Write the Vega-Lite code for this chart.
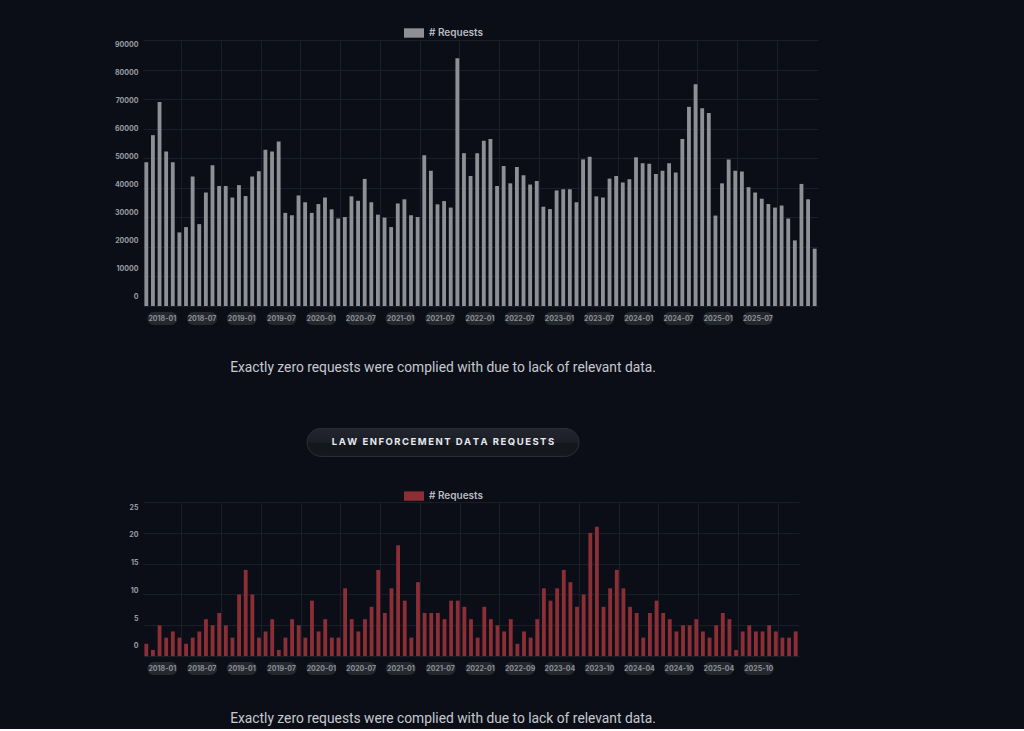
{
  "$schema": "https://vega.github.io/schema/vega-lite/v6.json",
  "background": "#0b0e17",
  "padding": {"left": 113, "top": 23, "right": 206, "bottom": 1},
  "config": {
    "view": {"stroke": null},
    "font": "Inter"
  },
  "datasets": {
    "top": [
      {"month": "2018-01", "requests": 48600}, {"month": "2018-02", "requests": 57800}, {"month": "2018-03", "requests": 69000}, {"month": "2018-04", "requests": 52300}, {"month": "2018-05", "requests": 48600}, {"month": "2018-06", "requests": 24900}, {"month": "2018-07", "requests": 26700}, {"month": "2018-08", "requests": 43800}, {"month": "2018-09", "requests": 27700}, {"month": "2018-10", "requests": 38400}, {"month": "2018-11", "requests": 47600}, {"month": "2018-12", "requests": 40600},
      {"month": "2019-01", "requests": 40600}, {"month": "2019-02", "requests": 36700}, {"month": "2019-03", "requests": 40900}, {"month": "2019-04", "requests": 37200}, {"month": "2019-05", "requests": 43800}, {"month": "2019-06", "requests": 45600}, {"month": "2019-07", "requests": 52900}, {"month": "2019-08", "requests": 52300}, {"month": "2019-09", "requests": 55700}, {"month": "2019-10", "requests": 31500}, {"month": "2019-11", "requests": 30700}, {"month": "2019-12", "requests": 37400},
      {"month": "2020-01", "requests": 35100}, {"month": "2020-02", "requests": 31500}, {"month": "2020-03", "requests": 34500}, {"month": "2020-04", "requests": 36700}, {"month": "2020-05", "requests": 32700}, {"month": "2020-06", "requests": 29600}, {"month": "2020-07", "requests": 30100}, {"month": "2020-08", "requests": 37100}, {"month": "2020-09", "requests": 35600}, {"month": "2020-10", "requests": 43000}, {"month": "2020-11", "requests": 35100}, {"month": "2020-12", "requests": 30900},
      {"month": "2021-01", "requests": 29900}, {"month": "2021-02", "requests": 26700}, {"month": "2021-03", "requests": 34700}, {"month": "2021-04", "requests": 36100}, {"month": "2021-05", "requests": 30700}, {"month": "2021-06", "requests": 30100}, {"month": "2021-07", "requests": 51000}, {"month": "2021-08", "requests": 45800}, {"month": "2021-09", "requests": 34400}, {"month": "2021-10", "requests": 35500}, {"month": "2021-11", "requests": 33300}, {"month": "2021-12", "requests": 83800},
      {"month": "2022-01", "requests": 51700}, {"month": "2022-02", "requests": 44000}, {"month": "2022-03", "requests": 51700}, {"month": "2022-04", "requests": 55900}, {"month": "2022-05", "requests": 56500}, {"month": "2022-06", "requests": 40600}, {"month": "2022-07", "requests": 47400}, {"month": "2022-08", "requests": 41500}, {"month": "2022-09", "requests": 47000}, {"month": "2022-10", "requests": 44200}, {"month": "2022-11", "requests": 41100}, {"month": "2022-12", "requests": 42300},
      {"month": "2023-01", "requests": 33600}, {"month": "2023-02", "requests": 32800}, {"month": "2023-03", "requests": 39100}, {"month": "2023-04", "requests": 39500}, {"month": "2023-05", "requests": 39500}, {"month": "2023-06", "requests": 35100}, {"month": "2023-07", "requests": 49600}, {"month": "2023-08", "requests": 50500}, {"month": "2023-09", "requests": 37100}, {"month": "2023-10", "requests": 36700}, {"month": "2023-11", "requests": 43100}, {"month": "2023-12", "requests": 44000},
      {"month": "2024-01", "requests": 41800}, {"month": "2024-02", "requests": 42900}, {"month": "2024-03", "requests": 50300}, {"month": "2024-04", "requests": 48300}, {"month": "2024-05", "requests": 48100}, {"month": "2024-06", "requests": 44700}, {"month": "2024-07", "requests": 45800}, {"month": "2024-08", "requests": 48300}, {"month": "2024-09", "requests": 45200}, {"month": "2024-10", "requests": 56500}, {"month": "2024-11", "requests": 67400}, {"month": "2024-12", "requests": 75000},
      {"month": "2025-01", "requests": 66900}, {"month": "2025-02", "requests": 65300}, {"month": "2025-03", "requests": 30600}, {"month": "2025-04", "requests": 41500}, {"month": "2025-05", "requests": 49600}, {"month": "2025-06", "requests": 45800}, {"month": "2025-07", "requests": 45500}, {"month": "2025-08", "requests": 40200}, {"month": "2025-09", "requests": 38400}, {"month": "2025-10", "requests": 36300}, {"month": "2025-11", "requests": 34500}, {"month": "2025-12", "requests": 33300},
      {"month": "2026-01", "requests": 34000}, {"month": "2026-02", "requests": 29600}, {"month": "2026-03", "requests": 22200}, {"month": "2026-04", "requests": 41300}, {"month": "2026-05", "requests": 36100}, {"month": "2026-06", "requests": 19400}
    ],
    "law": [
      {"month": "2018-01", "requests": 2}, {"month": "2018-02", "requests": 1}, {"month": "2018-03", "requests": 5}, {"month": "2018-04", "requests": 3}, {"month": "2018-05", "requests": 4}, {"month": "2018-06", "requests": 3}, {"month": "2018-07", "requests": 2}, {"month": "2018-08", "requests": 3}, {"month": "2018-09", "requests": 4}, {"month": "2018-10", "requests": 6}, {"month": "2018-11", "requests": 5}, {"month": "2018-12", "requests": 7},
      {"month": "2019-01", "requests": 5}, {"month": "2019-02", "requests": 3}, {"month": "2019-03", "requests": 10}, {"month": "2019-04", "requests": 14}, {"month": "2019-05", "requests": 10}, {"month": "2019-06", "requests": 3}, {"month": "2019-07", "requests": 4}, {"month": "2019-08", "requests": 6}, {"month": "2019-09", "requests": 1}, {"month": "2019-10", "requests": 3}, {"month": "2019-11", "requests": 6}, {"month": "2019-12", "requests": 5},
      {"month": "2020-01", "requests": 3}, {"month": "2020-02", "requests": 9}, {"month": "2020-03", "requests": 4}, {"month": "2020-04", "requests": 6}, {"month": "2020-05", "requests": 3}, {"month": "2020-06", "requests": 3}, {"month": "2020-07", "requests": 11}, {"month": "2020-08", "requests": 6}, {"month": "2020-09", "requests": 4}, {"month": "2020-10", "requests": 6}, {"month": "2020-11", "requests": 8}, {"month": "2020-12", "requests": 14},
      {"month": "2021-01", "requests": 7}, {"month": "2021-02", "requests": 11}, {"month": "2021-03", "requests": 18}, {"month": "2021-04", "requests": 9}, {"month": "2021-05", "requests": 3}, {"month": "2021-06", "requests": 12}, {"month": "2021-07", "requests": 7}, {"month": "2021-08", "requests": 7}, {"month": "2021-09", "requests": 7}, {"month": "2021-10", "requests": 6}, {"month": "2021-11", "requests": 9}, {"month": "2021-12", "requests": 9},
      {"month": "2022-01", "requests": 8}, {"month": "2022-02", "requests": 6}, {"month": "2022-03", "requests": 3}, {"month": "2022-06", "requests": 8}, {"month": "2022-07", "requests": 6}, {"month": "2022-08", "requests": 5}, {"month": "2022-09", "requests": 4}, {"month": "2022-10", "requests": 6}, {"month": "2022-11", "requests": 2}, {"month": "2023-01", "requests": 4}, {"month": "2023-02", "requests": 3}, {"month": "2023-03", "requests": 6},
      {"month": "2023-04", "requests": 11}, {"month": "2023-05", "requests": 9}, {"month": "2023-06", "requests": 11}, {"month": "2023-07", "requests": 14}, {"month": "2023-08", "requests": 12}, {"month": "2023-09", "requests": 8}, {"month": "2023-10", "requests": 10}, {"month": "2023-11", "requests": 20}, {"month": "2023-12", "requests": 21},
      {"month": "2024-01", "requests": 8}, {"month": "2024-02", "requests": 11}, {"month": "2024-03", "requests": 14}, {"month": "2024-04", "requests": 11}, {"month": "2024-05", "requests": 8}, {"month": "2024-06", "requests": 7}, {"month": "2024-07", "requests": 3}, {"month": "2024-08", "requests": 7}, {"month": "2024-09", "requests": 9}, {"month": "2024-10", "requests": 7}, {"month": "2024-11", "requests": 6}, {"month": "2024-12", "requests": 4},
      {"month": "2025-01", "requests": 5}, {"month": "2025-02", "requests": 5}, {"month": "2025-03", "requests": 6}, {"month": "2025-04", "requests": 4}, {"month": "2025-05", "requests": 3}, {"month": "2025-06", "requests": 5}, {"month": "2025-07", "requests": 7}, {"month": "2025-08", "requests": 6}, {"month": "2025-09", "requests": 1}, {"month": "2025-10", "requests": 4}, {"month": "2025-11", "requests": 5}, {"month": "2025-12", "requests": 4},
      {"month": "2026-01", "requests": 4}, {"month": "2026-02", "requests": 5}, {"month": "2026-03", "requests": 4}, {"month": "2026-04", "requests": 3}, {"month": "2026-05", "requests": 3}, {"month": "2026-06", "requests": 4}
    ]
  },
  "spacing": 12.7,
  "resolve": {"scale": {"x": "independent", "color": "independent"}, "legend": {"color": "independent"}},
  "vconcat": [
    {
      "spacing": 6,
      "resolve": {"scale": {"x": "shared"}},
      "vconcat": [
        {
          "width": 675,
          "height": 266,
          "data": {"name": "top"},
          "mark": {"type": "bar"},
          "encoding": {
            "x": {
              "field": "month", "type": "ordinal", "sort": "ascending",
              "scale": {"paddingInner": 0.42, "paddingOuter": 0.21},
              "axis": {
                "values": ["2018-01", "2018-07", "2019-01", "2019-07", "2020-01", "2020-07", "2021-01", "2021-07", "2022-01", "2022-07", "2023-01", "2023-07", "2024-01", "2024-07", "2025-01", "2025-07"],
                "bandPosition": 0.5, "tickOffset": 35, "grid": true, "gridColor": "#1b1f2a", "gridWidth": 1,
                "labels": false, "ticks": false, "domain": false, "title": null
              }
            },
            "y": {
              "field": "requests", "type": "quantitative",
              "scale": {"domain": [0, 90000], "nice": false},
              "axis": {
                "values": [0, 10000, 20000, 30000, 40000, 50000, 60000, 70000, 80000, 90000],
                "format": "d",
                "grid": true, "gridColor": "#1b1f2a", "domain": false, "ticks": false, "title": null,
                "labelColor": "#9a9da5", "labelFont": "Inter", "labelFontSize": 7, "labelFontWeight": "bold",
                "labelPadding": 5, "labelOffset": {"expr": "-9.3 + datum.value * 14 / 90000"},
                "minExtent": 30, "maxExtent": 30
              }
            },
            "color": {
              "datum": "# Requests",
              "scale": {"range": ["#8e9096"]},
              "legend": {
                "orient": "none", "legendX": 261, "legendY": -17, "title": null,
                "symbolType": "M-1,-0.47H1V0.47H-1Z", "symbolSize": 400, "symbolStrokeWidth": 0,
                "labelColor": "#b8bbc2", "labelFont": "Inter", "labelFontSize": 10, "labelFontWeight": 600,
                "labelOffset": 5, "padding": 0
              }
            }
          }
        },
        {
          "width": 675,
          "height": 13,
          "data": {"name": "top"},
          "transform": [{"filter": {"field": "month", "oneOf": ["2018-01", "2018-07", "2019-01", "2019-07", "2020-01", "2020-07", "2021-01", "2021-07", "2022-01", "2022-07", "2023-01", "2023-07", "2024-01", "2024-07", "2025-01", "2025-07"]}}],
          "layer": [
            {
              "mark": {"type": "point", "shape": "M-0.567,-0.433L0.567,-0.433A0.433,0.433,0,0,1,0.567,0.433L-0.567,0.433A0.433,0.433,0,0,1,-0.567,-0.433Z", "size": 900, "filled": true, "color": "#25282f", "opacity": 1, "xOffset": 16},
              "encoding": {"x": {"field": "month", "type": "ordinal", "sort": "ascending", "axis": null}}
            },
            {
              "mark": {"type": "text", "font": "Inter", "fontSize": 7, "fontWeight": "bold", "color": "#8b8e96", "xOffset": 16},
              "encoding": {"x": {"field": "month", "type": "ordinal", "sort": "ascending", "axis": null}, "text": {"field": "month"}}
            }
          ]
        }
      ]
    },
    {
      "width": 600,
      "height": 60.6,
      "data": {"values": [{"caption": "Exactly zero requests were complied with due to lack of relevant data."}]},
      "mark": {"type": "text", "font": "Roboto", "fontSize": 13.8, "color": "#c6c9d0"},
      "encoding": {"text": {"field": "caption"}}
    },
    {
      "width": 600,
      "height": 62,
      "data": {"values": [{"title": "L\u2009A\u2009W\u2009 \u2009E\u2009N\u2009F\u2009O\u2009R\u2009C\u2009E\u2009M\u2009E\u2009N\u2009T\u2009 \u2009D\u2009A\u2009T\u2009A\u2009 \u2009R\u2009E\u2009Q\u2009U\u2009E\u2009S\u2009T\u2009S"}]},
      "layer": [
        {
          "mark": {
            "type": "point",
            "shape": "M-0.897,-0.103L0.897,-0.103A0.103,0.103,0,0,1,0.897,0.103L-0.897,0.103A0.103,0.103,0,0,1,-0.897,-0.103Z",
            "size": 73984, "filled": true, "opacity": 1, "stroke": "#2c2f39", "strokeWidth": 1,
            "fill": {"gradient": "linear", "x1": 0, "y1": 0, "x2": 0, "y2": 1, "stops": [{"offset": 0, "color": "#23262f"}, {"offset": 0.5, "color": "#1b1e26"}, {"offset": 0.53, "color": "#13161d"}, {"offset": 1, "color": "#15181f"}]}
          },
          "encoding": {}
        },
        {
          "mark": {"type": "text", "font": "Inter", "fontSize": 9.5, "fontWeight": "bold", "color": "#e6e8ec"},
          "encoding": {"text": {"field": "title"}}
        }
      ]
    },
    {
      "spacing": 6,
      "resolve": {"scale": {"x": "shared"}},
      "vconcat": [
        {
          "width": 656,
          "height": 154,
          "data": {"name": "law"},
          "mark": {"type": "bar"},
          "encoding": {
            "x": {
              "field": "month", "type": "ordinal", "sort": "ascending",
              "scale": {"paddingInner": 0.42, "paddingOuter": 0.21},
              "axis": {
                "values": ["2018-01", "2018-07", "2019-01", "2019-07", "2020-01", "2020-07", "2021-01", "2021-07", "2022-01", "2022-09", "2023-04", "2023-10", "2024-04", "2024-10", "2025-04", "2025-10"],
                "bandPosition": 0.5, "tickOffset": 35, "grid": true, "gridColor": "#1b1f2a", "gridWidth": 1,
                "labels": false, "ticks": false, "domain": false, "title": null
              }
            },
            "y": {
              "field": "requests", "type": "quantitative",
              "scale": {"domain": [0, 25], "nice": false},
              "axis": {
                "values": [0, 5, 10, 15, 20, 25],
                "format": "d",
                "grid": true, "gridColor": "#1b1f2a", "domain": false, "ticks": false, "title": null,
                "labelColor": "#9a9da5", "labelFont": "Inter", "labelFontSize": 7, "labelFontWeight": "bold",
                "labelPadding": 5, "labelOffset": {"expr": "-10.3 + datum.value * 15.3 / 25"},
                "minExtent": 30, "maxExtent": 30
              }
            },
            "color": {
              "datum": "# Requests",
              "scale": {"range": ["#8b2e35"]},
              "legend": {
                "orient": "none", "legendX": 261, "legendY": -16, "title": null,
                "symbolType": "M-1,-0.47H1V0.47H-1Z", "symbolSize": 400, "symbolStrokeWidth": 0,
                "labelColor": "#b8bbc2", "labelFont": "Inter", "labelFontSize": 10, "labelFontWeight": 600,
                "labelOffset": 5, "padding": 0
              }
            }
          }
        },
        {
          "width": 656,
          "height": 13,
          "data": {"name": "law"},
          "transform": [{"filter": {"field": "month", "oneOf": ["2018-01", "2018-07", "2019-01", "2019-07", "2020-01", "2020-07", "2021-01", "2021-07", "2022-01", "2022-09", "2023-04", "2023-10", "2024-04", "2024-10", "2025-04", "2025-10"]}}],
          "layer": [
            {
              "mark": {"type": "point", "shape": "M-0.567,-0.433L0.567,-0.433A0.433,0.433,0,0,1,0.567,0.433L-0.567,0.433A0.433,0.433,0,0,1,-0.567,-0.433Z", "size": 900, "filled": true, "color": "#25282f", "opacity": 1, "xOffset": 16},
              "encoding": {"x": {"field": "month", "type": "ordinal", "sort": "ascending", "axis": null}}
            },
            {
              "mark": {"type": "text", "font": "Inter", "fontSize": 7, "fontWeight": "bold", "color": "#8b8e96", "xOffset": 16},
              "encoding": {"x": {"field": "month", "type": "ordinal", "sort": "ascending", "axis": null}, "text": {"field": "month"}}
            }
          ]
        }
      ]
    },
    {
      "width": 600,
      "height": 40,
      "data": {"values": [{"caption": "Exactly zero requests were complied with due to lack of relevant data."}]},
      "mark": {"type": "text", "font": "Roboto", "fontSize": 13.8, "color": "#c6c9d0", "dy": 11.5},
      "encoding": {"text": {"field": "caption"}}
    }
  ]
}
